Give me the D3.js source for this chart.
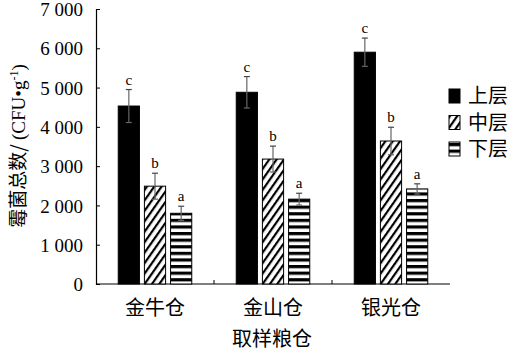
<!DOCTYPE html>
<html>
<head>
<meta charset="utf-8">
<script src="https://cdn.jsdelivr.net/npm/d3@7"></script>
<style>
body{margin:0;background:#fff;}
svg text{font-family:"Liberation Serif","Times New Roman",serif;fill:#000;}
.cjk{font-family:"Noto Sans CJK SC","Noto Serif CJK SC",serif;}
</style>
</head>
<body>
<script>
//Data
var granaries = ["金牛仓","金山仓","银光仓"]
var layers = ["上层","中层","下层"]
var meanUpper = [4530,4880,5900]
var meanMiddle = [2490,3180,3640]
var meanLower = [1800,2160,2420]
var sdUpper = [420,400,360]
var sdMiddle = [330,330,350]
var sdLower = [180,150,130]
var letters = [["c","b","a"],["c","b","a"],["c","b","a"]]
var yTicks = [0,1000,2000,3000,4000,5000,6000,7000]

var W = 512, H = 353
var svg = d3.select("body").append("svg").attr("width",W).attr("height",H)

//Patterns for the bars
var defs = svg.append("defs")
var diag = defs.append("pattern").attr("id","diag").attr("patternUnits","userSpaceOnUse")
    .attr("width",6).attr("height",6).attr("patternTransform","rotate(35)")
diag.append("rect").attr("width",6).attr("height",6).attr("fill","#fff")
diag.append("rect").attr("width",2.2).attr("height",6).attr("fill","#000")
var horiz = defs.append("pattern").attr("id","horiz").attr("patternUnits","userSpaceOnUse")
    .attr("width",6).attr("height",6.6).attr("y",1)
horiz.append("rect").attr("width",6).attr("height",6.6).attr("fill","#fff")
horiz.append("rect").attr("width",6).attr("height",3.2).attr("fill","#000")
var fills = ["#000","url(#diag)","url(#horiz)"]

//Scales
var x = d3.scaleBand().domain(granaries).range([96,450])
var xi = d3.scaleBand().domain(layers).range([0,118]).paddingInner(0.19).paddingOuter(0.85)
var y = d3.scaleLinear().domain([0,7000]).range([284,9])

//Axes
var fmt = function(d){ return d3.format(",")(d).replace(",", " ") }
svg.append("g").attr("transform","translate(96,0)")
    .call(d3.axisLeft(y).tickValues(yTicks).tickSize(-4).tickPadding(13).tickFormat(fmt))
    .call(function(g){ g.selectAll("text").style("font-size","19px").attr("dy","0.35em") })
svg.append("g").attr("transform","translate(0,284)")
    .call(d3.axisBottom(x).tickSize(0).tickPadding(17))
    .call(function(g){ g.selectAll("text").attr("class","cjk").style("font-size","20px").attr("dy","0.71em") })
    .call(function(g){ g.select(".domain").attr("d","M96,0H450") })
svg.selectAll(".domain").attr("stroke","#000").attr("stroke-width",1.2)
svg.selectAll(".tick line").attr("stroke","#000")

//Ticks between groups on the x axis
svg.append("g").selectAll("line").data(granaries.slice(1)).enter().append("line")
    .attr("x1",function(d){return x(d)}).attr("x2",function(d){return x(d)})
    .attr("y1",284).attr("y2",280).attr("stroke","#000")

//Bars
var rows = []
granaries.forEach(function(g,i){
    var m = [meanUpper[i],meanMiddle[i],meanLower[i]]
    var s = [sdUpper[i],sdMiddle[i],sdLower[i]]
    layers.forEach(function(l,j){ rows.push({g:g,l:l,j:j,v:m[j],sd:s[j],lt:letters[i][j]}) })
})
var bars = svg.append("g").selectAll("g").data(rows).enter().append("g")
    .attr("transform",function(d){return "translate("+(x(d.g)+xi(d.l))+",0)"})
bars.append("rect")
    .attr("y",function(d){return y(d.v)})
    .attr("width",xi.bandwidth())
    .attr("height",function(d){return y(0)-y(d.v)})
    .attr("fill",function(d){return fills[d.j]})
    .attr("stroke","#000").attr("stroke-width",1)

//Error bars
var cx = xi.bandwidth()/2
bars.append("line").attr("x1",cx).attr("x2",cx)
    .attr("y1",function(d){return y(d.v+d.sd)}).attr("y2",function(d){return y(d.v-d.sd)})
    .attr("stroke","#666").attr("stroke-width",1.2)
bars.append("line").attr("x1",cx-3).attr("x2",cx+3)
    .attr("y1",function(d){return y(d.v+d.sd)}).attr("y2",function(d){return y(d.v+d.sd)})
    .attr("stroke","#444").attr("stroke-width",1.2)
bars.append("line").attr("x1",cx-3).attr("x2",cx+3)
    .attr("y1",function(d){return y(d.v-d.sd)}).attr("y2",function(d){return y(d.v-d.sd)})
    .attr("stroke","#666").attr("stroke-width",1.2)
bars.append("text").attr("x",cx)
    .attr("y",function(d){return y(d.v+d.sd)-5})
    .attr("text-anchor","middle").style("font-size","15px")
    .text(function(d){return d.lt})

//Legend
var legend = svg.append("g").selectAll("g").data(layers).enter().append("g")
    .attr("transform",function(d,i){return "translate(449,"+(89+i*26.5)+")"})
legend.append("rect").attr("width",11).attr("height",14)
    .attr("fill",function(d,i){return fills[i]}).attr("stroke","#000")
legend.append("text").attr("class","cjk").attr("x",19).attr("y",7).attr("dy","0.35em")
    .style("font-size","20px").text(function(d){return d})

//Axis titles
svg.append("text").attr("class","cjk").attr("x",272).attr("y",339).attr("dy","0.35em")
    .attr("text-anchor","middle").style("font-size","20px").text("取样粮仓")
var yt = svg.append("text").attr("transform","translate(18,146) rotate(-90)")
    .attr("text-anchor","middle").attr("dy","0.35em").style("font-size","19px")
yt.append("tspan").attr("class","cjk").text("霉菌总数/ ")
yt.append("tspan").text("(CFU•g")
yt.append("tspan").attr("baseline-shift","super").style("font-size","12px").text("-1")
yt.append("tspan").text(")")
</script>
</body>
</html>
